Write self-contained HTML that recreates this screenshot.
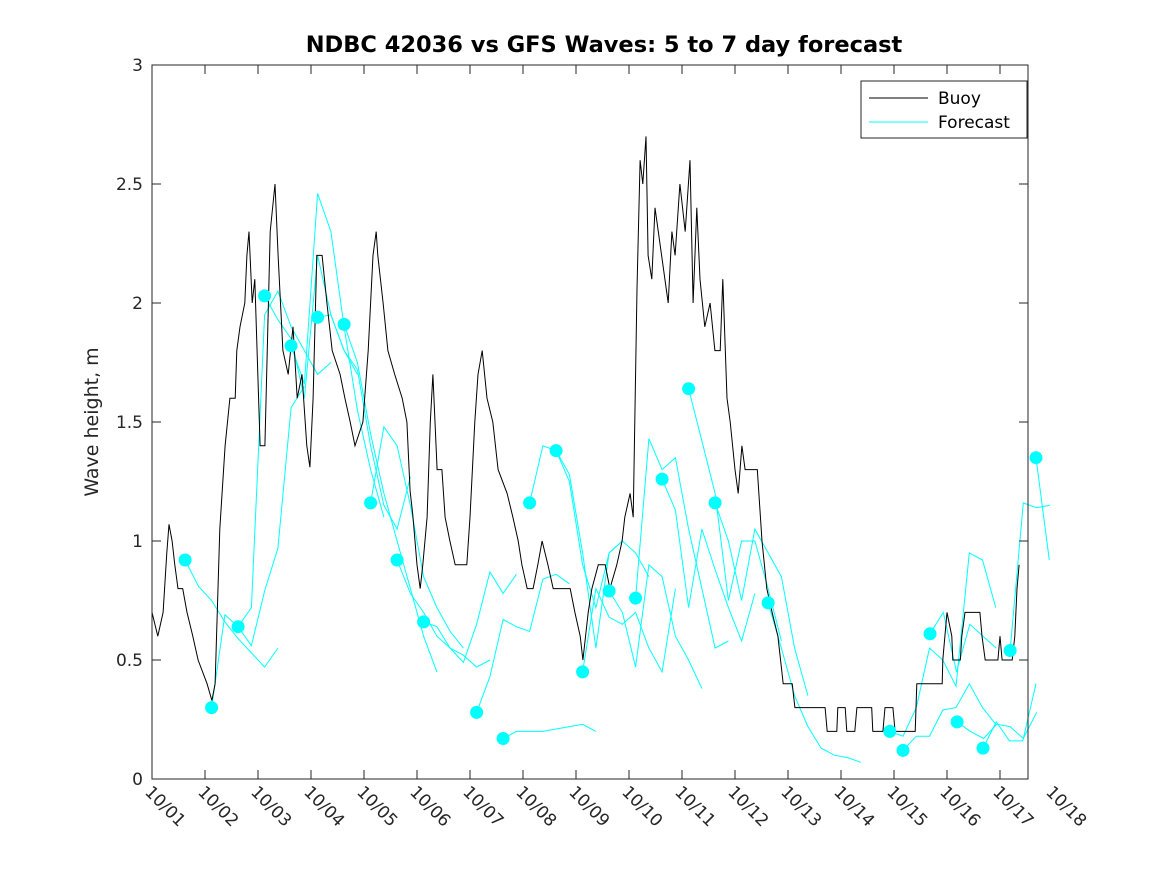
<!DOCTYPE html>
<html><head><meta charset="utf-8"><style>
body{margin:0;background:#fff;}
svg{display:block;font-family:"DejaVu Sans","Liberation Sans",sans-serif;}
</style></head><body>
<svg id="chart" width="1167" height="875" viewBox="0 0 1167 875" xmlns="http://www.w3.org/2000/svg">
<rect width="1167" height="875" fill="#fff"/>
<text x="604" y="52" text-anchor="middle" font-size="22.5" font-weight="bold" fill="#000">NDBC 42036 vs GFS Waves: 5 to 7 day forecast</text>
<text transform="translate(98,422) rotate(-90)" text-anchor="middle" font-size="19" fill="#262626">Wave height, m</text>
<g id="plot"></g>
<g id="axes"></g>
<g>
<rect x="861" y="81" width="166" height="57" fill="#fff" stroke="#262626" stroke-width="1"/>
<line x1="869" y1="98" x2="928" y2="98" stroke="#000" stroke-width="1"/>
<text x="938" y="104" font-size="17" fill="#000">Buoy</text>
<line x1="869" y1="122" x2="928" y2="122" stroke="#00ffff" stroke-width="1"/>
<text x="938" y="128" font-size="17" fill="#000">Forecast</text>
</g>
</svg>
<script>
const xTickLabels=["10/01","10/02","10/03","10/04","10/05","10/06","10/07","10/08","10/09","10/10","10/11","10/12","10/13","10/14","10/15","10/16","10/17","10/18"];
const yTicks=[0,0.5,1,1.5,2,2.5,3];
const yTickLabels=["0","0.5","1","1.5","2","2.5","3"];
const buoyDays=[0,0.11,0.21,0.28,0.32,0.38,0.43,0.49,0.58,0.66,0.77,0.87,1.04,1.13,1.19,1.28,1.38,1.47,1.57,1.60,1.66,1.75,1.79,1.83,1.89,1.94,2.04,2.13,2.23,2.32,2.38,2.47,2.57,2.66,2.74,2.83,2.92,2.98,3.04,3.11,3.21,3.30,3.40,3.55,3.64,3.74,3.83,3.98,4.08,4.17,4.23,4.26,4.36,4.45,4.58,4.72,4.81,4.87,4.92,5.00,5.06,5.11,5.19,5.25,5.30,5.38,5.47,5.53,5.62,5.72,5.94,6.00,6.09,6.15,6.23,6.32,6.43,6.53,6.70,6.81,6.91,6.98,7.08,7.19,7.28,7.36,7.47,7.57,7.89,7.98,8.08,8.13,8.23,8.30,8.42,8.55,8.64,8.77,8.87,8.92,9.02,9.08,9.15,9.21,9.26,9.32,9.36,9.43,9.49,9.74,9.81,9.87,9.96,10.06,10.15,10.21,10.28,10.34,10.43,10.53,10.62,10.72,10.77,10.85,10.91,11.00,11.06,11.13,11.19,11.42,11.51,11.60,11.70,11.81,11.91,12.08,12.13,12.70,12.74,12.92,12.94,13.08,13.11,13.26,13.30,13.58,13.60,13.79,13.83,13.98,14.02,14.40,14.43,14.91,14.92,15.00,15.09,15.11,15.25,15.28,15.34,15.62,15.66,15.72,15.96,16.00,16.04,16.23,16.28,16.32,16.36];
const buoyHeights=[0.70,0.60,0.70,0.95,1.07,1.00,0.90,0.80,0.80,0.70,0.60,0.50,0.40,0.33,0.40,1.05,1.40,1.60,1.60,1.80,1.90,2.00,2.20,2.30,2.00,2.10,1.40,1.40,2.30,2.50,2.20,1.80,1.70,1.90,1.60,1.70,1.40,1.31,1.60,2.20,2.20,2.00,1.80,1.70,1.60,1.50,1.40,1.50,1.80,2.20,2.30,2.20,2.00,1.80,1.70,1.60,1.50,1.21,1.11,0.90,0.80,0.90,1.10,1.50,1.70,1.30,1.30,1.10,1.00,0.90,0.90,1.10,1.50,1.70,1.80,1.60,1.50,1.30,1.20,1.10,1.00,0.90,0.80,0.80,0.90,1.00,0.90,0.80,0.80,0.70,0.60,0.50,0.70,0.80,0.90,0.90,0.80,0.90,1.00,1.10,1.20,1.10,2.06,2.60,2.50,2.70,2.20,2.10,2.40,2.00,2.30,2.20,2.50,2.30,2.60,2.00,2.40,2.10,1.90,2.00,1.80,1.80,2.10,1.60,1.50,1.30,1.20,1.40,1.30,1.30,1.00,0.80,0.70,0.60,0.40,0.40,0.30,0.30,0.20,0.20,0.30,0.30,0.20,0.20,0.30,0.30,0.20,0.20,0.30,0.30,0.20,0.20,0.40,0.40,0.50,0.70,0.60,0.50,0.50,0.60,0.70,0.70,0.60,0.50,0.50,0.60,0.50,0.50,0.60,0.80,0.90];
const forecastStart=[0.625,1.125,1.625,2.125,2.625,3.125,3.625,4.125,4.625,5.125,6.125,6.625,7.125,7.625,8.125,8.625,9.125,9.625,10.125,10.625,11.625,13.92,14.17,14.68,15.19,15.68,16.19,16.68];
const forecastStep=0.25;
const forecastValues=[
[0.92,0.81,0.75,0.66,0.59,0.53,0.47,0.55],
[0.30,0.69,0.64,0.56,0.79,0.97,1.56,1.65],
[0.64,0.72,1.95,2.05,1.90,1.80,1.70,1.75],
[2.03,1.93,1.85,1.60,2.20,1.95,1.80,1.70],
[1.82,1.66,2.46,2.30,1.90,1.55,1.30,1.10],
[1.94,1.95,1.80,1.72,1.40,1.15,1.05,1.27],
[1.91,1.75,1.45,1.20,1.00,0.80,0.60,0.45],
[1.16,1.48,1.40,1.15,0.85,0.72,0.62,0.55],
[0.92,0.78,0.70,0.60,0.55,0.52,0.47,0.50],
[0.66,0.64,0.55,0.49,0.65,0.87,0.78,0.86],
[0.28,0.43,0.67,0.64,0.62,0.84,0.86,0.82],
[0.17,0.20,0.20,0.20,0.21,0.22,0.23,0.20],
[1.16,1.40,1.38,1.25,0.90,0.72,0.95,1.00],
[1.38,1.28,0.95,0.55,0.95,1.00,0.95,0.85],
[0.45,0.80,0.68,0.65,0.70,0.55,0.45,0.80],
[0.79,0.70,0.47,0.90,0.85,0.60,0.50,0.38],
[0.76,1.43,1.30,1.35,1.05,0.80,0.55,0.58],
[1.26,1.13,0.72,1.05,0.88,0.72,0.58,0.78],
[1.64,1.42,1.20,0.75,1.00,1.00,0.80,0.58],
[1.16,1.00,0.75,1.05,0.95,0.85,0.55,0.35],
[0.74,0.55,0.35,0.22,0.13,0.10,0.09,0.07],
[0.20,0.18,0.30,0.55,0.50,0.39,0.95,0.92,0.72],
[0.12,0.18,0.18,0.29,0.30,0.40,0.30,0.23],
[0.61,0.70,0.45,0.65,0.60,0.55],
[0.24,0.20,0.17,0.23,0.22,0.17,0.28],
[0.13,0.24,0.16,0.16,0.40],
[0.54,1.16,1.14,1.15],
[1.35,0.92]
];
const X0=152,X1=1028,Y0=779,Y1=65,PX_PER_DAY=53;
function xs(d){return X0+d*PX_PER_DAY;}
function ys(v){return Y0-(v/3)*(Y0-Y1);}
const NS="http://www.w3.org/2000/svg";
const plot=document.getElementById('plot');
const axes=document.getElementById('axes');
function mk(tag,attrs,parent){const e=document.createElementNS(NS,tag);for(const k in attrs)e.setAttribute(k,attrs[k]);parent.appendChild(e);return e;}
forecastValues.forEach((vals,i)=>{
  const pts=vals.map((v,j)=>xs(forecastStart[i]+j*forecastStep).toFixed(1)+","+ys(v).toFixed(1)).join(" ");
  const pl=mk('polyline',{points:pts,fill:'none',stroke:'#00ffff','stroke-width':1},plot);
  
  
});
const bpts=buoyDays.map((d,i)=>xs(d).toFixed(1)+","+ys(buoyHeights[i]).toFixed(1)).join(" ");
const bl=mk('polyline',{points:bpts,fill:'none',stroke:'#000','stroke-width':1},plot);


forecastValues.forEach((vals,i)=>{
  const c=mk('circle',{cx:xs(forecastStart[i]).toFixed(1),cy:ys(vals[0]).toFixed(1),r:6.5,fill:'#00ffff'},plot);
  
  
});
mk('rect',{x:X0,y:Y1,width:X1-X0,height:Y0-Y1,fill:'none',stroke:'#262626','stroke-width':1},axes);
yTicks.forEach((v,i)=>{
  const y=ys(v);
  mk('line',{x1:X0,y1:y,x2:X0+9,y2:y,stroke:'#262626'},axes);
  mk('line',{x1:X1,y1:y,x2:X1-9,y2:y,stroke:'#262626'},axes);
  const t=mk('text',{x:X0-9,y:y+6,'text-anchor':'end','font-size':17,fill:'#262626'},axes);
  t.textContent=yTickLabels[i];
  
  
});
xTickLabels.forEach((lab,i)=>{
  const x=xs(i);
  if(x<=X1+0.5){
    mk('line',{x1:x,y1:Y0,x2:x,y2:Y0-9,stroke:'#262626'},axes);
    mk('line',{x1:x,y1:Y1,x2:x,y2:Y1+9,stroke:'#262626'},axes);
  }
  const t=mk('text',{transform:`translate(${x-8},${Y0+14}) rotate(45)`,'font-size':17,fill:'#262626'},axes);
  t.textContent=lab;
  
  
});
</script>
</body></html>
